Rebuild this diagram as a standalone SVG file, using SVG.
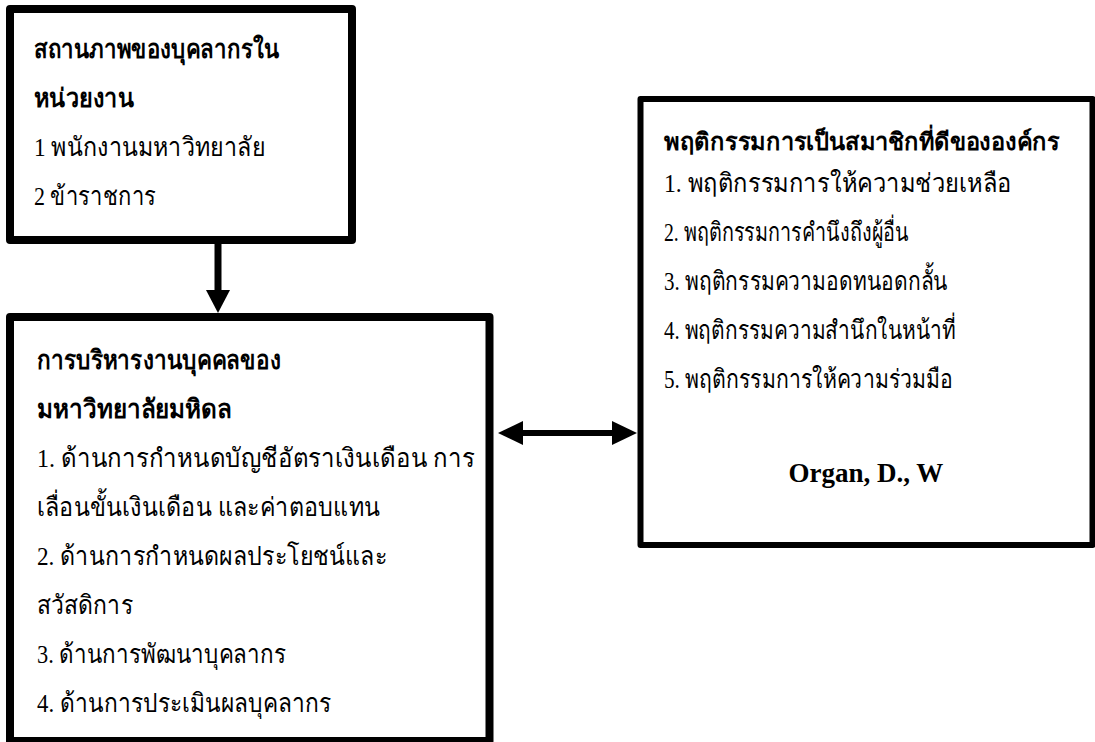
<svg xmlns="http://www.w3.org/2000/svg" width="1095" height="742" viewBox="0 0 1095 742">
<style>
.box{fill:#fff;stroke:#000;stroke-linejoin:round}
.t{font-family:"Liberation Serif","DejaVu Serif",serif;font-size:26px;fill:#000}
.b{font-weight:bold}
</style>
<rect width="1095" height="742" fill="#fff"/>
<g id="connectors">
<line x1="218" y1="244" x2="218" y2="292" stroke="#000" stroke-width="7"/>
<polygon points="206,290 230,290 218,313" fill="#000"/>
<line x1="520" y1="433" x2="615" y2="433" stroke="#000" stroke-width="6"/>
<polygon points="498,433 523,421 523,445" fill="#000"/>
<polygon points="637,433 612,421 612,445" fill="#000"/>
</g>
<g id="status">
<rect class="box" x="10" y="9" width="342" height="231" stroke-width="8"/>
<text class="t b" x="34" y="58" textLength="245" lengthAdjust="spacingAndGlyphs">สถานภาพของบุคลากรใน</text>
<text class="t b" x="34" y="107" textLength="100" lengthAdjust="spacingAndGlyphs">หน่วยงาน</text>
<text class="t" x="34" y="156" textLength="231" lengthAdjust="spacingAndGlyphs">1 พนักงานมหาวิทยาลัย</text>
<text class="t" x="34" y="205" textLength="122" lengthAdjust="spacingAndGlyphs">2 ข้าราชการ</text>
</g>
<g id="admin">
<rect class="box" x="10" y="317" width="479.5" height="424" stroke-width="8"/>
<text class="t b" x="37" y="369" textLength="244" lengthAdjust="spacingAndGlyphs">การบริหารงานบุคคลของ</text>
<text class="t b" x="37" y="418" textLength="195" lengthAdjust="spacingAndGlyphs">มหาวิทยาลัยมหิดล</text>
<text class="t" x="37" y="467" textLength="438" lengthAdjust="spacingAndGlyphs">1. ด้านการกำหนดบัญชีอัตราเงินเดือน การ</text>
<text class="t" x="37" y="516" textLength="343" lengthAdjust="spacingAndGlyphs">เลื่อนขั้นเงินเดือน และค่าตอบแทน</text>
<text class="t" x="37" y="565" textLength="350" lengthAdjust="spacingAndGlyphs">2. ด้านการกำหนดผลประโยชน์และ</text>
<text class="t" x="37" y="614" textLength="96" lengthAdjust="spacingAndGlyphs">สวัสดิการ</text>
<text class="t" x="37" y="663" textLength="249" lengthAdjust="spacingAndGlyphs">3. ด้านการพัฒนาบุคลากร</text>
<text class="t" x="37" y="712" textLength="294" lengthAdjust="spacingAndGlyphs">4. ด้านการประเมินผลบุคลากร</text>
</g>
<g id="ocb">
<rect class="box" x="640.5" y="99" width="452" height="446" stroke-width="6"/>
<text class="t b" x="664" y="150" textLength="396" lengthAdjust="spacingAndGlyphs" style="font-size:24px">พฤติกรรมการเป็นสมาชิกที่ดีขององค์กร</text>
<text class="t" x="664" y="192" textLength="348" lengthAdjust="spacingAndGlyphs">1. พฤติกรรมการให้ความช่วยเหลือ</text>
<text class="t" x="664" y="241" textLength="245" lengthAdjust="spacingAndGlyphs">2. พฤติกรรมการคำนึงถึงผู้อื่น</text>
<text class="t" x="664" y="290" textLength="284" lengthAdjust="spacingAndGlyphs">3. พฤติกรรมความอดทนอดกลั้น</text>
<text class="t" x="664" y="339" textLength="292" lengthAdjust="spacingAndGlyphs">4. พฤติกรรมความสำนึกในหน้าที่</text>
<text class="t" x="664" y="388" textLength="289" lengthAdjust="spacingAndGlyphs">5. พฤติกรรมการให้ความร่วมมือ</text>
<text class="t b" x="866" y="482" text-anchor="middle" style="font-size:27px">Organ, D., W</text>
</g>
</svg>
